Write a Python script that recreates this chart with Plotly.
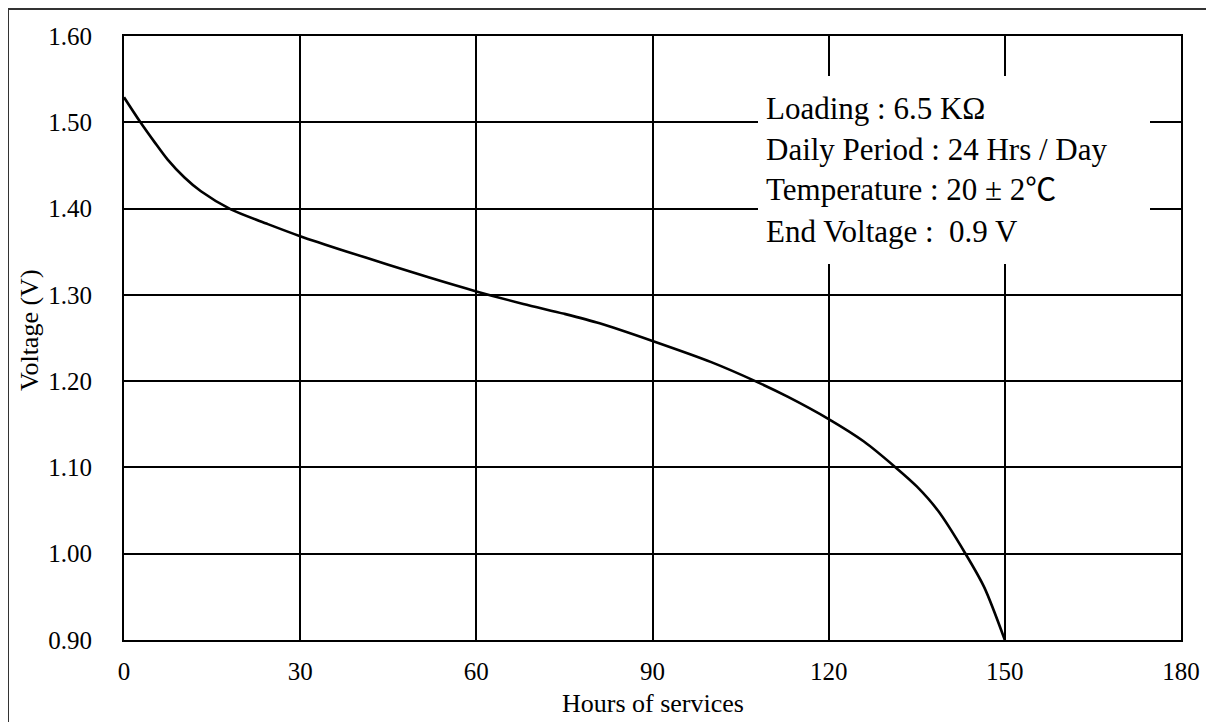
import plotly.graph_objects as go

# Data
hours = [0, 2.8, 5.2, 7.4, 10.3, 13.1, 18.2, 24.5, 30, 38, 45, 52, 60, 68, 75,
         81, 90, 100, 107.5, 113, 120, 126, 131.4, 135, 138.6, 143.3, 146.5, 150]
volts = [1.529, 1.500, 1.477, 1.457, 1.436, 1.420, 1.399, 1.382, 1.368, 1.350,
         1.335, 1.320, 1.304, 1.2895, 1.278, 1.267, 1.2465, 1.222, 1.200, 1.182,
         1.156, 1.130, 1.100, 1.078, 1.050, 1.000, 0.961, 0.900]

x_ticks = [0, 30, 60, 90, 120, 150, 180]
y_ticks = [0.90, 1.00, 1.10, 1.20, 1.30, 1.40, 1.50, 1.60]
y_tick_labels = ["0.90", "1.00", "1.10", "1.20", "1.30", "1.40", "1.50", "1.60"]

info_lines = [
    "Loading : 6.5 KΩ",
    "Daily Period : 24 Hrs / Day",
    "Temperature : 20 ± 2℃",
    "End Voltage :  0.9 V",
]
x_title = "Hours of services"
y_title = "Voltage (V)"

FONT = "Liberation Serif, Times New Roman, Noto Sans CJK SC, serif"

W, H = 1214, 722
L, R, T, B = 116, 1173, 28, 632
pw, ph = R - L, B - T


def px(xp):
    return (xp - L) / pw


def py(yp):
    return (B - yp) / ph


fig = go.Figure()
fig.add_trace(go.Scatter(
    x=hours, y=volts, mode="lines",
    line=dict(color="black", width=2.6, shape="spline", smoothing=0.8),
    hoverinfo="skip", showlegend=False,
))

shapes = [
    # info box (white background hiding grid lines)
    dict(type="rect", xref="paper", yref="paper",
         x0=px(750), x1=px(1142), y0=py(256), y1=py(68),
         fillcolor="white", line=dict(width=0), layer="above"),
    # outer frame
    dict(type="rect", xref="paper", yref="paper",
         x0=px(0), x1=px(1240), y0=py(760), y1=py(1),
         fillcolor="rgba(0,0,0,0)", line=dict(color="#333", width=2),
         layer="above"),
]

annotations = []
line_y = [100, 141, 182, 223]
for txt, yy in zip(info_lines, line_y):
    annotations.append(dict(
        text=txt, xref="paper", yref="paper", x=px(756), y=py(yy),
        xanchor="left", yanchor="middle", showarrow=False,
        font=dict(family=FONT, size=31, color="black"),
    ))
annotations.append(dict(
    text=x_title, xref="paper", yref="paper", x=0.5, y=py(695),
    xanchor="center", yanchor="middle", showarrow=False,
    font=dict(family=FONT, size=26, color="black"),
))
annotations.append(dict(
    text=y_title, xref="paper", yref="paper", x=px(21), y=py(322),
    xanchor="center", yanchor="middle", showarrow=False, textangle=-90,
    font=dict(family=FONT, size=26, color="black"),
))

fig.update_layout(
    width=W, height=H,
    margin=dict(l=L, r=W - R, t=T, b=H - B),
    paper_bgcolor="white", plot_bgcolor="white",
    shapes=shapes, annotations=annotations,
    font=dict(family=FONT, size=25, color="black"),
    xaxis=dict(
        range=[0, 180], tickvals=x_ticks, ticktext=[str(v) for v in x_ticks],
        showgrid=True, gridcolor="black", gridwidth=1.8,
        showline=True, linecolor="black", linewidth=2, mirror=True,
        zeroline=False, ticks="", ticklabelstandoff=8,
        tickfont=dict(family=FONT, size=25),
    ),
    yaxis=dict(
        range=[0.9, 1.6], tickvals=y_ticks, ticktext=y_tick_labels,
        showgrid=True, gridcolor="black", gridwidth=1.8,
        showline=True, linecolor="black", linewidth=2, mirror=True,
        zeroline=False, ticks="", ticklabelstandoff=25,
        tickfont=dict(family=FONT, size=25),
    ),
)

fig.write_html("out.html")
